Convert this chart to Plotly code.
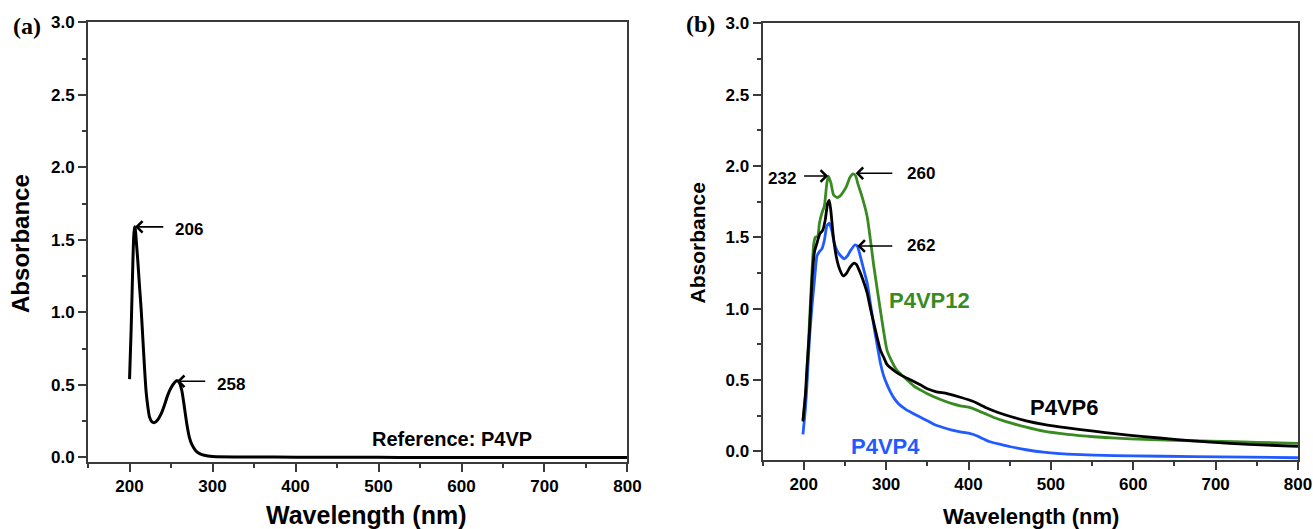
import plotly.graph_objects as go

# ---------------- data ----------------
# Panel (a): reference P4VP
ref_wl = [200, 202, 204, 205, 206, 207, 208, 210, 212, 214, 216, 218, 220, 222, 224, 227, 230,
          234, 238, 242, 246, 250, 254, 257, 260, 263, 266, 269, 272, 275, 280, 285, 290, 300,
          350, 400, 450, 500, 550, 600, 650, 700, 750, 800]
ref_abs = [0.54, 0.90, 1.35, 1.52, 1.59, 1.57, 1.50, 1.35, 1.18, 1.02, 0.82, 0.62, 0.45, 0.35,
           0.28, 0.245, 0.24, 0.26, 0.30, 0.36, 0.43, 0.48, 0.515, 0.53, 0.515, 0.46, 0.35, 0.23,
           0.14, 0.09, 0.045, 0.025, 0.015, 0.007, 0.003, 0.002, 0.001, 0.001, 0.0, 0.0, 0.0,
           0.0, 0.0, 0.0]

# Panel (b)
p12_wl = [199, 203, 206, 209, 212, 214, 217, 219, 222, 225, 228, 230, 233, 236, 240, 244, 248,
          252, 256, 260, 263, 266, 270, 277, 285, 293, 301, 307, 313, 320, 334, 342, 350, 366,
          380, 390, 400, 410, 420, 430, 440, 451, 470, 491, 520, 552, 580, 613, 650, 694, 750, 800]
p12_abs = [0.22, 0.45, 0.80, 1.15, 1.45, 1.50, 1.51, 1.60, 1.67, 1.72, 1.88, 1.93, 1.88, 1.80,
           1.78, 1.79, 1.82, 1.86, 1.92, 1.945, 1.93, 1.87, 1.80, 1.645, 1.30, 0.99, 0.71, 0.63,
           0.57, 0.53, 0.457, 0.43, 0.405, 0.364, 0.335, 0.32, 0.31, 0.29, 0.265, 0.24, 0.22,
           0.20, 0.17, 0.142, 0.12, 0.103, 0.093, 0.084, 0.078, 0.072, 0.064, 0.056]

p6_wl = [199, 202, 204, 207, 210, 213, 216, 218, 220, 223, 226, 229, 231, 233, 236, 240, 244,
         248, 252, 256, 261, 264, 268, 272, 277, 281, 285, 289, 293, 297, 301, 310, 318, 330,
         342, 350, 360, 374, 390, 406, 420, 435, 451, 470, 491, 520, 552, 580, 613, 650, 694,
         740, 800]
p6_abs = [0.21, 0.40, 0.60, 0.85, 1.20, 1.40, 1.46, 1.50, 1.53, 1.55, 1.62, 1.74, 1.76, 1.68,
          1.50, 1.35, 1.27, 1.23, 1.25, 1.29, 1.32, 1.31, 1.26, 1.20, 1.11, 1.00, 0.90, 0.80,
          0.71, 0.66, 0.61, 0.565, 0.535, 0.50, 0.465, 0.44, 0.42, 0.405, 0.38, 0.35, 0.31,
          0.275, 0.245, 0.215, 0.19, 0.165, 0.142, 0.123, 0.104, 0.085, 0.065, 0.05, 0.035]

p4_wl = [199, 202, 204, 207, 210, 213, 216, 219, 222, 225, 228, 231, 234, 237, 241, 245, 249,
         253, 257, 262, 265, 269, 273, 277, 281, 285, 289, 293, 297, 301, 305, 310, 315, 320,
         325, 330, 340, 350, 360, 370, 380, 390, 400, 410, 415, 425, 440, 451, 470, 491, 520,
         552, 600, 673, 740, 800]
p4_abs = [0.12, 0.30, 0.48, 0.80, 1.02, 1.20, 1.37, 1.40, 1.42, 1.48, 1.58, 1.60, 1.55, 1.46,
          1.40, 1.37, 1.35, 1.37, 1.41, 1.447, 1.44, 1.36, 1.27, 1.18, 1.03, 0.88, 0.75, 0.62,
          0.53, 0.47, 0.42, 0.37, 0.335, 0.31, 0.29, 0.275, 0.245, 0.215, 0.185, 0.166, 0.15,
          0.137, 0.128, 0.11, 0.096, 0.07, 0.048, 0.033, 0.012, -0.005, -0.018, -0.026, -0.031,
          -0.036, -0.04, -0.044]

x_tick_vals = [200, 300, 400, 500, 600, 700, 800]
y_tick_vals = [0.0, 0.5, 1.0, 1.5, 2.0, 2.5, 3.0]

# peak annotations: (label, wavelength tip, absorbance tip)
peaks_a = [("206", 206.5, 1.59), ("258", 257.0, 0.525)]
peaks_b_left = [("232", 229.6, 1.93)]
peaks_b_right = [("260", 262.9, 1.95), ("262", 265.0, 1.44)]

GREEN = "#3a8a22"
BLUE = "#1f5bff"
FONT = "Liberation Sans, Arial, sans-serif"

# observed drawing area of the page (used to convert pixel targets into paper fractions)
RW, RH, OY = 1298.0, 515.0, 8.6


def fx(p):
    return p / RW


def fy(p):
    return 1 - (p - OY) / RH


fig = go.Figure()
fig.add_trace(go.Scatter(x=ref_wl, y=ref_abs, mode="lines", line=dict(color="black", width=3, shape="spline", smoothing=0.6),
                         xaxis="x", yaxis="y", showlegend=False))
fig.add_trace(go.Scatter(x=p12_wl, y=p12_abs, mode="lines", line=dict(color=GREEN, width=2.8, shape="spline", smoothing=0.5),
                         xaxis="x2", yaxis="y2", showlegend=False))
fig.add_trace(go.Scatter(x=p4_wl, y=p4_abs, mode="lines", line=dict(color=BLUE, width=2.8, shape="spline", smoothing=0.5),
                         xaxis="x2", yaxis="y2", showlegend=False))
fig.add_trace(go.Scatter(x=p6_wl, y=p6_abs, mode="lines", line=dict(color="black", width=2.8, shape="spline", smoothing=0.5),
                         xaxis="x2", yaxis="y2", showlegend=False))

axis_common = dict(showline=True, linecolor="#3a3a3a", linewidth=2, mirror=True,
                   ticks="outside", tickcolor="#3a3a3a", tickwidth=1.5, ticklen=8,
                   showgrid=False, zeroline=False,
                   tickfont=dict(family=FONT, size=17, color="black", weight="bold"))

x_tick_text = ["<b>%d</b>" % v for v in x_tick_vals]
y_tick_text = ["<b>%.1f</b>" % v for v in y_tick_vals]

fig.update_layout(
    width=1313, height=529, autosize=False,
    margin=dict(l=0, r=0, t=0, b=0),
    paper_bgcolor="white", plot_bgcolor="white",
    xaxis=dict(domain=[fx(88), fx(627)], range=[150, 800], tickvals=x_tick_vals, ticktext=x_tick_text,
               minor=dict(dtick=50, tick0=0, ticklen=4, tickcolor="#3a3a3a", ticks="outside"),
               anchor="y", **axis_common),
    yaxis=dict(domain=[fy(462), fy(22)], range=[-0.028, 3.0], tickvals=y_tick_vals, ticktext=y_tick_text,
               minor=dict(dtick=0.25, tick0=0, ticklen=4, tickcolor="#3a3a3a", ticks="outside"),
               anchor="x", **axis_common),
    xaxis2=dict(domain=[fx(762), fx(1297)], range=[150, 800], tickvals=x_tick_vals, ticktext=x_tick_text,
                minor=dict(dtick=50, tick0=0, ticklen=4, tickcolor="#3a3a3a", ticks="outside"),
                anchor="y2", **axis_common),
    yaxis2=dict(domain=[fy(460.5), fy(23)], range=[-0.06, 3.0], tickvals=y_tick_vals, ticktext=y_tick_text,
                minor=dict(dtick=0.25, tick0=0, ticklen=4, tickcolor="#3a3a3a", ticks="outside"),
                anchor="x2", **axis_common),
)

ann = []


def title_font(size):
    return dict(family=FONT, size=size, color="black", weight="bold")


# axis titles
ann.append(dict(text="Wavelength (nm)", x=fx(366), y=fy(516), xref="paper", yref="paper",
                showarrow=False, font=title_font(25), xanchor="center", yanchor="middle"))
ann.append(dict(text="Wavelength (nm)", x=fx(1030), y=fy(517), xref="paper", yref="paper",
                showarrow=False, font=title_font(22), xanchor="center", yanchor="middle"))
ann.append(dict(text="Absorbance", x=fx(21), y=fy(244), xref="paper", yref="paper",
                showarrow=False, font=title_font(24), textangle=-90, xanchor="center", yanchor="middle"))
ann.append(dict(text="Absorbance", x=fx(697), y=fy(243), xref="paper", yref="paper",
                showarrow=False, font=title_font(21), textangle=-90, xanchor="center", yanchor="middle"))
# panel labels
serif = dict(family="Liberation Serif, Times New Roman, serif", size=24, color="black", weight="bold")
ann.append(dict(text="(a)", x=fx(27), y=fy(26), xref="paper", yref="paper", showarrow=False,
                font=serif, xanchor="center", yanchor="middle"))
ann.append(dict(text="(b)", x=fx(700), y=fy(24), xref="paper", yref="paper", showarrow=False,
                font=serif, xanchor="center", yanchor="middle"))

peak_font = dict(family=FONT, size=17, color="black", weight="bold")
# panel (a) peaks: arrow from the right pointing left
for lab, wx, wy in peaks_a:
    ann.append(dict(x=wx, y=wy, ax=wx + 36, ay=wy, xref="x", yref="y", axref="x", ayref="y",
                    text="", showarrow=True, arrowhead=4, arrowsize=1.4, arrowwidth=1.6, arrowcolor="black"))
    ann.append(dict(x=wx + 46, y=wy - 0.02, xref="x", yref="y", text=lab, showarrow=False,
                    font=peak_font, xanchor="left", yanchor="middle"))
# panel (b) peaks
for lab, wx, wy in peaks_b_left:
    ann.append(dict(x=wx, y=wy, ax=wx - 31, ay=wy, xref="x2", yref="y2", axref="x2", ayref="y2",
                    text="", showarrow=True, arrowhead=4, arrowsize=1.4, arrowwidth=1.6, arrowcolor="black"))
    ann.append(dict(x=wx - 36, y=wy - 0.02, xref="x2", yref="y2", text=lab, showarrow=False,
                    font=peak_font, xanchor="right", yanchor="middle"))
for lab, wx, wy in peaks_b_right:
    ann.append(dict(x=wx, y=wy, ax=309.3, ay=wy, xref="x2", yref="y2", axref="x2", ayref="y2",
                    text="", showarrow=True, arrowhead=4, arrowsize=1.4, arrowwidth=1.6, arrowcolor="black"))
    ann.append(dict(x=323, y=wy, xref="x2", yref="y2", text=lab, showarrow=False,
                    font=peak_font, xanchor="left", yanchor="middle"))

# series labels
ann.append(dict(x=588, y=0.125, xref="x", yref="y", text="Reference: P4VP", showarrow=False,
                font=dict(family=FONT, size=20, color="black", weight="bold")))
ann.append(dict(x=352.7, y=1.056, xref="x2", yref="y2", text="P4VP12", showarrow=False,
                font=dict(family=FONT, size=22, color=GREEN, weight="bold")))
ann.append(dict(x=516.5, y=0.31, xref="x2", yref="y2", text="P4VP6", showarrow=False,
                font=dict(family=FONT, size=22, color="black", weight="bold")))
ann.append(dict(x=298.7, y=0.035, xref="x2", yref="y2", text="P4VP4", showarrow=False,
                font=dict(family=FONT, size=22, color=BLUE, weight="bold")))

fig.update_layout(annotations=ann)
fig.write_html("out.html", config={"responsive": False})
